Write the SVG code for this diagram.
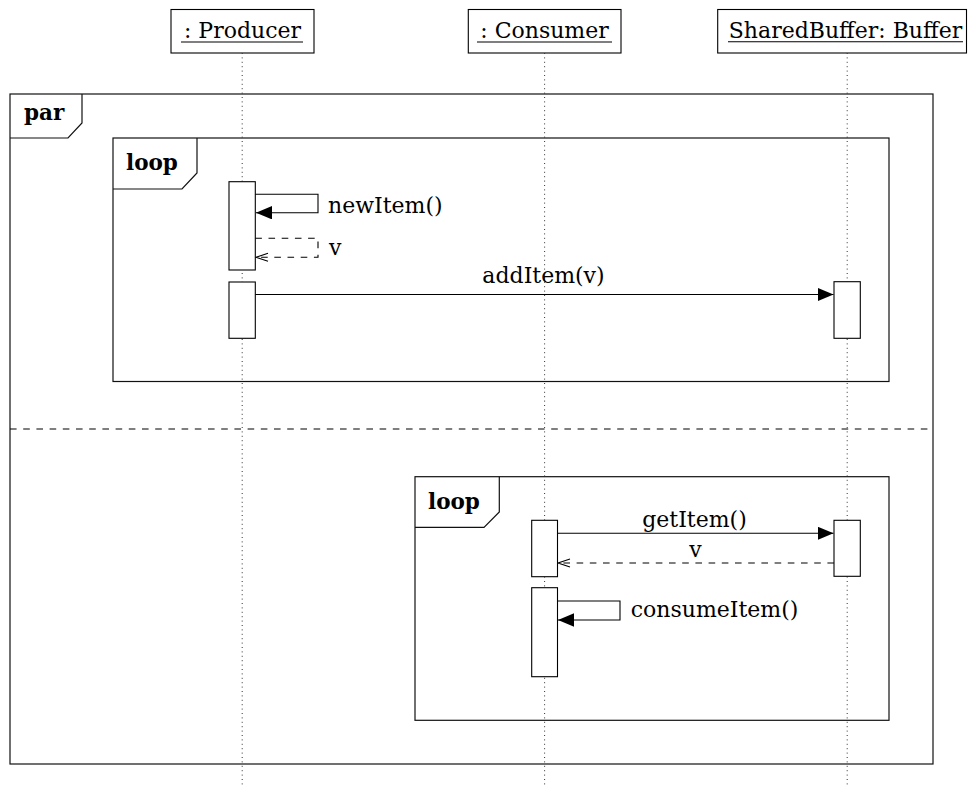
<svg xmlns="http://www.w3.org/2000/svg" width="969" height="787" viewBox="0 0 969 787">
  <style>
    .txt { font-family: "DejaVu Serif", "Liberation Serif", serif; font-size: 22px; fill: #000; }
    .kw { font-family: "DejaVu Serif", "Liberation Serif", serif; font-size: 21.5px; font-weight: bold; fill: #000; }
    .box { fill: #fff; stroke: #000; stroke-width: 1.1; }
    .frame { fill: none; stroke: #111; stroke-width: 1.2; }
    .life { fill: none; stroke: #333; stroke-width: 1; stroke-dasharray: 1 3.4; }
    .ul { stroke: #000; stroke-width: 1.1; }
    .msg { fill: none; stroke: #000; stroke-width: 1.1; }
    .ret { fill: none; stroke: #000; stroke-width: 1.1; stroke-dasharray: 6.6 6.6; }
  </style>
  <defs>
    <marker id="call" markerUnits="userSpaceOnUse" markerWidth="17" markerHeight="14" refX="16" refY="6.7" orient="auto">
      <path d="M0,0 L16,6.7 L0,13.4 z" fill="#000"/>
    </marker>
    <marker id="reply" markerUnits="userSpaceOnUse" markerWidth="14" markerHeight="11" refX="12.5" refY="4.5" orient="auto">
      <path d="M0.5,0.5 L12.5,4.5 L0.5,8.5" fill="none" stroke="#000" stroke-width="1.1"/>
    </marker>
  </defs>

  <!-- combined fragments -->
  <g id="frame-par">
    <rect class="frame" x="10" y="94" width="923" height="670"/>
    <polyline class="frame" points="82,94 82,123 68,138 10,138"/>
    <text class="kw" x="24" y="120">par</text>
    <line x1="10" y1="429" x2="933" y2="429" stroke="#000" stroke-width="1.2" stroke-dasharray="6.6 6.6"/>
  </g>
  <g id="frame-loop-producer">
    <rect class="frame" x="113" y="138" width="776" height="243.5"/>
    <polyline class="frame" points="197,138 197,173 182,189 113,189"/>
    <text class="kw" x="126" y="170">loop</text>
  </g>
  <g id="frame-loop-consumer">
    <rect class="frame" x="415" y="476.7" width="474" height="243.6"/>
    <polyline class="frame" points="499.3,476.7 499.3,512 484,527.3 415,527.3"/>
    <text class="kw" x="428" y="509">loop</text>
  </g>

  <!-- lifelines -->
  <g id="producer">
    <rect class="box" x="171" y="9.5" width="143" height="43.5"/>
    <text class="txt" x="242.5" y="37.5" text-anchor="middle">: Producer</text>
    <line class="ul" x1="181" y1="42" x2="303" y2="42"/>
    <line class="life" x1="242.2" y1="53" x2="242.2" y2="787"/>
    <rect class="box" x="229" y="181.7" width="26.3" height="88.3"/>
    <rect class="box" x="229" y="282" width="26.3" height="56.3"/>
  </g>
  <g id="consumer">
    <rect class="box" x="468.3" y="9.5" width="152.7" height="43.5"/>
    <text class="txt" x="544.5" y="37.5" text-anchor="middle">: Consumer</text>
    <line class="ul" x1="477" y1="42" x2="612" y2="42"/>
    <line class="life" x1="544.6" y1="53" x2="544.6" y2="787"/>
    <rect class="box" x="531.7" y="520.3" width="25.8" height="56.4"/>
    <rect class="box" x="531.7" y="587.7" width="25.8" height="89"/>
  </g>
  <g id="buffer">
    <rect class="box" x="717.7" y="9.5" width="248.8" height="43.5"/>
    <text class="txt" x="845.5" y="37.5" text-anchor="middle">SharedBuffer: Buffer</text>
    <line class="ul" x1="728" y1="41.8" x2="963" y2="41.8"/>
    <line class="life" x1="847.2" y1="53" x2="847.2" y2="787"/>
    <rect class="box" x="834" y="281.7" width="26.3" height="56.6"/>
    <rect class="box" x="834" y="520.3" width="26.3" height="56"/>
  </g>

  <!-- messages -->
  <g id="connectors">
    <polyline class="msg" points="255.3,194.3 318,194.3 318,212.7 256,212.7" marker-end="url(#call)"/>
    <text class="txt" x="328" y="212.5">newItem()</text>
    <polyline class="ret" points="255.3,238.3 318,238.3 318,257.3 256,257.3" marker-end="url(#reply)"/>
    <text class="txt" x="329" y="255">v</text>

    <line class="msg" x1="255.3" y1="294.5" x2="833.5" y2="294.5" marker-end="url(#call)"/>
    <text class="txt" x="543.5" y="282.7" text-anchor="middle">addItem(v)</text>

    <line class="msg" x1="557.5" y1="533.3" x2="833.5" y2="533.3" marker-end="url(#call)"/>
    <text class="txt" x="694.5" y="526.5" text-anchor="middle">getItem()</text>
    <line class="ret" x1="834" y1="563" x2="558" y2="563" marker-end="url(#reply)"/>
    <text class="txt" x="695.5" y="556.5" text-anchor="middle">v</text>

    <polyline class="msg" points="557.5,601 620,601 620,620 558,620" marker-end="url(#call)"/>
    <text class="txt" x="630.7" y="616.7">consumeItem()</text>
  </g>
</svg>
